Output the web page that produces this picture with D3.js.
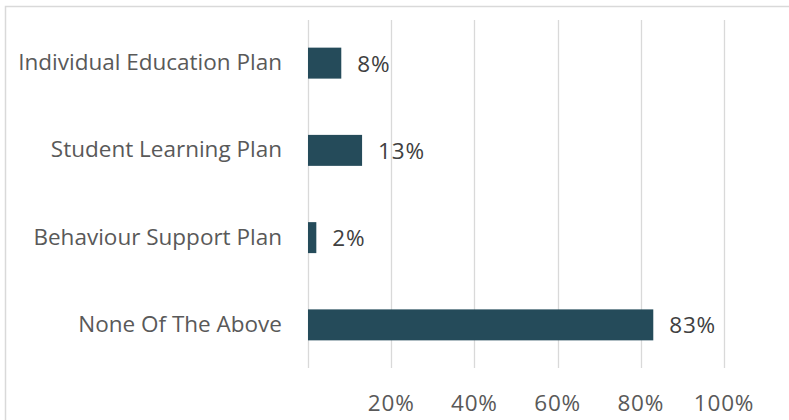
<!DOCTYPE html>
<html>
<head>
<meta charset="utf-8">
<script src="https://cdn.jsdelivr.net/npm/d3@7"></script>
<style>
  html, body { margin: 0; padding: 0; background: #ffffff; }
  svg { display: block; }
  text { font-family: "Open Sans", Lato, sans-serif; }
</style>
</head>
<body>
<svg id="chart" width="789" height="420"></svg>
<script>
// Share of students with each type of support plan
const categories = ["Individual Education Plan", "Student Learning Plan", "Behaviour Support Plan", "None Of The Above"];
const values = [0.08, 0.13, 0.02, 0.83];
const gridValues = [0, 0.2, 0.4, 0.6, 0.8, 1.0];
const tickLabels = ["20%", "40%", "60%", "80%", "100%"];
const tickLabelValues = [0.2, 0.4, 0.6, 0.8, 1.0];

const svg = d3.select("#chart");
const W = 789, H = 420;

// outer chart frame (extends past the visible area on the right and bottom)
svg.append("rect")
  .attr("x", 5.5).attr("y", 6.5)
  .attr("width", W + 20).attr("height", H + 20)
  .attr("fill", "none").attr("stroke", "#d9d9d9").attr("stroke-width", 1.5);

const x = d3.scaleLinear().domain([0, 1]).range([308, 724]);
const y = d3.scaleBand().domain(categories).range([19.5, 368.5]).paddingInner(0.645).paddingOuter(0.3225);

// vertical gridlines
svg.append("g").selectAll("line").data(gridValues).join("line")
  .attr("x1", d => Math.round(x(d)) + 0.5).attr("x2", d => Math.round(x(d)) + 0.5)
  .attr("y1", 20).attr("y2", 368)
  .attr("stroke", "#d9d9d9").attr("stroke-width", 1.3);

// x tick labels
svg.append("g").selectAll("text").data(tickLabelValues).join("text")
  .attr("x", d => x(d)).attr("y", 402)
  .attr("text-anchor", "middle").attr("dominant-baseline", "central")
  .attr("font-size", 22.5).attr("letter-spacing", 0.8).attr("fill", "#595959")
  .text((d, i) => tickLabels[i]);

// category labels
svg.append("g").selectAll("text").data(categories).join("text")
  .attr("x", 282).attr("y", d => y(d) + y.bandwidth() / 2 - 1.5)
  .attr("text-anchor", "end").attr("dominant-baseline", "central")
  .attr("font-size", 22.5).attr("fill", "#595959")
  .text(d => d);

// bars
svg.append("g").selectAll("rect").data(categories).join("rect")
  .attr("x", x(0)).attr("y", d => y(d))
  .attr("width", (d, i) => x(values[i]) - x(0)).attr("height", y.bandwidth())
  .attr("fill", "#254b5a");

// value labels
svg.append("g").selectAll("text").data(categories).join("text")
  .attr("x", (d, i) => x(values[i]) + 16).attr("y", d => y(d) + y.bandwidth() / 2)
  .attr("dominant-baseline", "central")
  .attr("font-size", 22.5).attr("letter-spacing", 0.8).attr("fill", "#404040")
  .text((d, i) => Math.round(values[i] * 100) + "%");
</script>
</body>
</html>
